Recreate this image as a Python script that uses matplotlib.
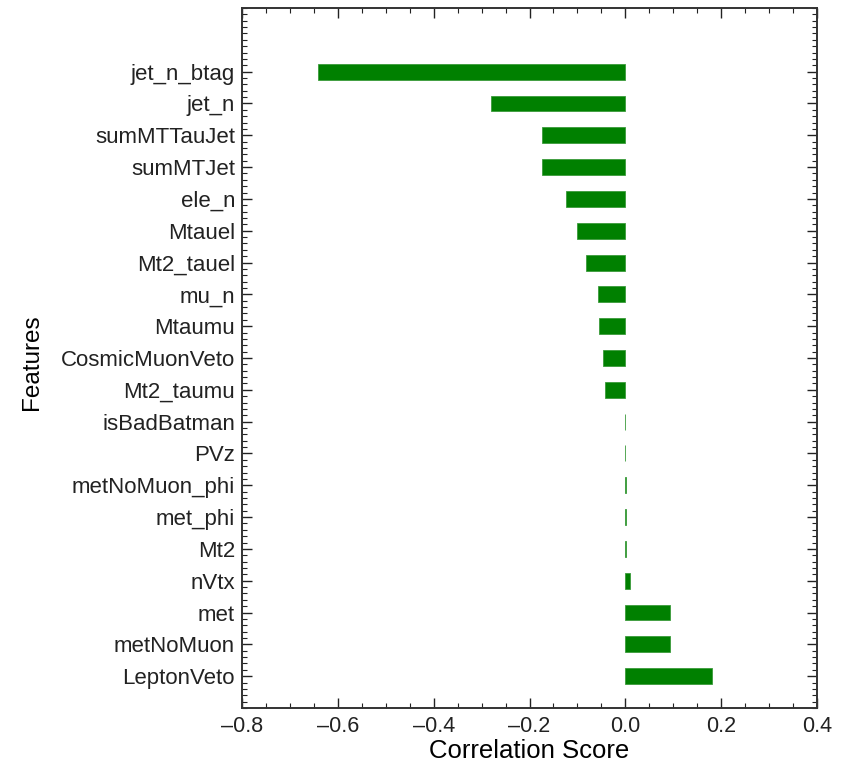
import matplotlib
matplotlib.use("Agg")
import matplotlib.pyplot as plt
from matplotlib.ticker import MultipleLocator
import numpy as np

plt.rcParams['font.family'] = ['Liberation Sans', 'DejaVu Sans']

# Feature names, listed top to bottom as shown on the chart
features = ["jet_n_btag", "jet_n", "sumMTTauJet", "sumMTJet", "ele_n", "Mtauel",
            "Mt2_tauel", "mu_n", "Mtaumu", "CosmicMuonVeto", "Mt2_taumu",
            "isBadBatman", "PVz", "metNoMuon_phi", "met_phi", "Mt2", "nVtx",
            "met", "metNoMuon", "LeptonVeto"]
scores = [-0.641, -0.281, -0.174, -0.174, -0.124, -0.101,
          -0.083, -0.058, -0.054, -0.046, -0.043,
          0.0, 0.0, 0.002, 0.002, 0.002, 0.010,
          0.093, 0.093, 0.180]

x_ticks = [-0.8, -0.6, -0.4, -0.2, 0.0, 0.2, 0.4]

# bottom-to-top order for barh
names = features[::-1]
vals = scores[::-1]
ypos = np.arange(len(names))

fig = plt.figure(figsize=(8.45, 7.63), dpi=100)
ax = fig.add_axes([0.2864, 0.0721, 0.6805, 0.9174])

ax.barh(ypos, vals, height=0.5, color="#008000", edgecolor="#3a9a3a", linewidth=0.6)

ax.set_xlim(-0.8, 0.4)
ax.set_ylim(-1, 21)
ax.set_yticks(ypos)
ax.set_yticklabels(names, fontsize=16)
ax.set_xticks(x_ticks)
ax.set_xticklabels([f"{t:.1f}".replace("-", "\u2013") for t in x_ticks], fontsize=15.5)
ax.xaxis.set_minor_locator(MultipleLocator(0.05))
ax.yaxis.set_minor_locator(MultipleLocator(0.2))

ax.tick_params(which="both", direction="in", top=True, right=True, colors="#222222")
ax.tick_params(which="major", length=7, width=1.0)
ax.tick_params(which="minor", length=3.5, width=0.8)
ax.tick_params(axis="x", which="major", pad=6)
ax.tick_params(axis="y", which="major", pad=5)

for s in ax.spines.values():
    s.set_linewidth(1.4)
    s.set_color("#333333")

ax.set_xlabel("Correlation Score", fontsize=18.5)
ax.xaxis.set_label_coords(0.5, -0.044)
ax.set_ylabel("Features", fontsize=17.5)
ax.yaxis.set_label_coords(-0.346, 0.494)

fig.savefig("out.png", dpi=100)
